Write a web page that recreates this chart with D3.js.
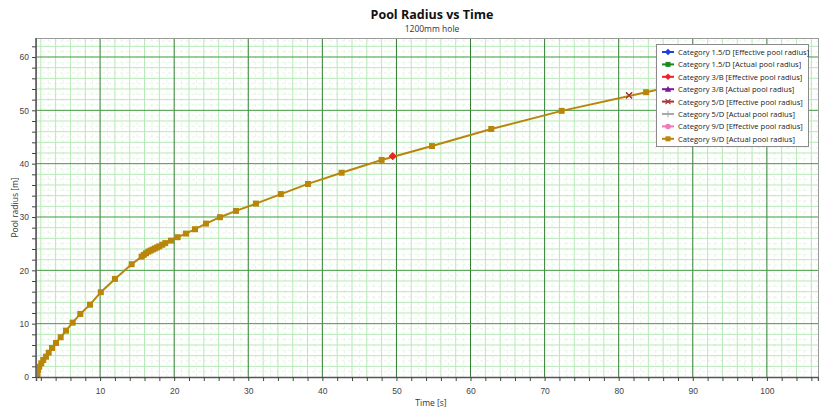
<!DOCTYPE html>
<html><head><meta charset="utf-8">
<script src="https://cdn.jsdelivr.net/npm/d3@7"></script>
<style>body{margin:0;background:#fff;} svg{display:block;font-family:"Open Sans",sans-serif;}</style>
</head><body>
<script>
// Data
const title = "Pool Radius vs Time";
const subtitle = "1200mm hole";
const xLabel = "Time [s]";
const yLabel = "Pool radius [m]";
const xTicks = [10,20,30,40,50,60,70,80,90,100];
const yTicks = [0,10,20,30,40,50,60];
const seriesNames = [
  "Category 1.5/D [Effective pool radius]",
  "Category 1.5/D [Actual pool radius]",
  "Category 3/B [Effective pool radius]",
  "Category 3/B [Actual pool radius]",
  "Category 5/D [Effective pool radius]",
  "Category 5/D [Actual pool radius]",
  "Category 9/D [Effective pool radius]",
  "Category 9/D [Actual pool radius]"
];
const seriesColors = ["#1f3fe0","#1a8a1a","#ee2222","#7a1a9a","#a83232","#a8a8a8","#f07ab8","#b8860b"];
const seriesMarkers = ["diamond","square","diamond","triangle","xcross","plus","circle","square"];
// shared curve (Category 9/D actual is on top)
const time9D = [1.52,1.52,1.62,1.79,2.06,2.33,2.70,3.06,3.51,4.05,4.68,5.40,6.30,7.33,8.64,10.1,12.0,14.26,15.61,
  15.9,16.2,16.5,16.8,17.1,17.4,17.7,18.0,18.4,18.8,19.57,20.47,21.59,22.81,24.29,26.18,28.34,31.04,34.4,38.06,42.6,48.0,54.8,62.8,72.3,83.7,92.0];
const radius9D = [0.06,0.69,1.31,1.93,2.57,3.19,3.81,4.56,5.44,6.38,7.45,8.69,10.19,11.82,13.56,15.9,18.39,21.14,22.57,
  22.9,23.2,23.5,23.7,23.9,24.1,24.3,24.5,24.8,25.1,25.57,26.21,26.89,27.71,28.76,29.96,31.14,32.51,34.3,36.2,38.3,40.7,43.3,46.5,49.9,53.4,56.0];
// other series: only their distinct visible points
const time3BEff = [49.5];
const radius3BEff = [41.4];
const time5DEff = [81.4];
const radius5DEff = [52.8];

const W = 819, H = 410;
const m = {left:36, top:38, right:818, bottom:377};
const svg = d3.select("body").append("svg").attr("width",W).attr("height",H);
const x = d3.scaleLinear().domain([1.35,106.9]).range([m.left,m.right]);
const y = d3.scaleLinear().domain([0,63.56]).range([m.bottom,m.top]);

svg.append("defs").append("clipPath").attr("id","clip").append("rect")
  .attr("x",m.left).attr("y",m.top).attr("width",m.right-m.left).attr("height",m.bottom-m.top);
const g = svg.append("g").attr("clip-path","url(#clip)");

// grid
const xs1 = d3.range(2,108,1), ys1 = d3.range(1,64,1);
g.selectAll(".gx1").data(xs1.filter(v=>v%2)).join("line").attr("x1",d=>x(d)).attr("x2",d=>x(d)).attr("y1",m.top).attr("y2",m.bottom)
  .attr("stroke","#e4f6e4").attr("stroke-width",1).attr("stroke-dasharray","3,3");
g.selectAll(".gy1").data(ys1.filter(v=>v%2)).join("line").attr("y1",d=>y(d)).attr("y2",d=>y(d)).attr("x1",m.left).attr("x2",m.right)
  .attr("stroke","#e4f6e4").attr("stroke-width",1).attr("stroke-dasharray","3,3");
g.selectAll(".gx2").data(xs1.filter(v=>v%2===0 && v%10)).join("line").attr("x1",d=>x(d)).attr("x2",d=>x(d)).attr("y1",m.top).attr("y2",m.bottom)
  .attr("stroke","#b6eab6").attr("stroke-width",1);
g.selectAll(".gy2").data(ys1.filter(v=>v%2===0 && v%10)).join("line").attr("y1",d=>y(d)).attr("y2",d=>y(d)).attr("x1",m.left).attr("x2",m.right)
  .attr("stroke","#b6eab6").attr("stroke-width",1);
g.selectAll(".gx3").data(xTicks).join("line").attr("x1",d=>x(d)).attr("x2",d=>x(d)).attr("y1",m.top).attr("y2",m.bottom)
  .attr("stroke","#2f7d2f").attr("stroke-width",1);
g.selectAll(".gy3").data(yTicks.filter(v=>v>0)).join("line").attr("y1",d=>y(d)).attr("y2",d=>y(d)).attr("x1",m.left).attr("x2",m.right)
  .attr("stroke","#3f9a3f").attr("stroke-width",1);

// plot border
svg.append("rect").attr("x",m.left+0.5).attr("y",m.top+0.5).attr("width",m.right-m.left).attr("height",m.bottom-m.top)
  .attr("fill","none").attr("stroke","#9a9a9a");

// axes
const xAxis = d3.axisBottom(x).tickValues(d3.range(2,108,2)).tickSize(4).tickFormat(d=>xTicks.includes(d)?d:"");
const gx = svg.append("g").attr("transform",`translate(0,${m.bottom})`).call(xAxis);
const yAxis = d3.axisLeft(y).tickValues(d3.range(0,64,2)).tickSize(4).tickFormat(d=>yTicks.includes(d)?d:"");
const gy = svg.append("g").attr("transform",`translate(${m.left},0)`).call(yAxis);
[gx,gy].forEach(a=>{
  a.selectAll("path").attr("stroke","#555").attr("stroke-width",1.5);
  a.selectAll("line").attr("stroke","#444");
  a.selectAll("text").attr("fill","#444").attr("font-size",8.5);
});
gx.selectAll("text").attr("dy","1.2em");
gy.select("path").attr("d",`M0,${m.bottom}V${m.top}`);

// titles
svg.append("text").attr("x",432).attr("y",19).attr("text-anchor","middle").attr("font-size",12.5).attr("font-weight","bold").attr("fill","#111").text(title);
svg.append("text").attr("x",432).attr("y",32).attr("text-anchor","middle").attr("font-size",8.5).attr("fill","#333").text(subtitle);
svg.append("text").attr("x",431).attr("y",406).attr("text-anchor","middle").attr("font-size",8.5).attr("fill","#333").text(xLabel);
svg.append("text").attr("transform",`translate(18,${(m.top+m.bottom)/2}) rotate(-90)`).attr("text-anchor","middle").attr("font-size",8.5).attr("fill","#333").text(yLabel);

// markers
function marker(sel, type, color, size){
  const s = size;
  if(type==="square") sel.append("rect").attr("x",-s).attr("y",-s).attr("width",2*s).attr("height",2*s).attr("fill",color);
  else if(type==="diamond") sel.append("path").attr("d",`M0,${-s*1.3}L${s*1.3},0L0,${s*1.3}L${-s*1.3},0Z`).attr("fill",color);
  else if(type==="triangle") sel.append("path").attr("d",`M0,${-s*1.3}L${s*1.3},${s}L${-s*1.3},${s}Z`).attr("fill",color);
  else if(type==="circle") sel.append("circle").attr("r",s*1.1).attr("fill",color);
  else if(type==="xcross") sel.append("path").attr("d",`M${-s},${-s}L${s},${s}M${-s},${s}L${s},${-s}`).attr("stroke",color).attr("stroke-width",1.2);
  else if(type==="plus") sel.append("path").attr("d",`M${-s*1.3},0H${s*1.3}M0,${-s*1.3}V${s*1.3}`).attr("stroke",color).attr("stroke-width",1);
}
const line = d3.line().x(d=>x(d[0])).y(d=>y(d[1]));
function drawSeries(ts, rs, idx){
  const pts = ts.map((t,i)=>[t,rs[i]]);
  if(pts.length>1) g.append("path").datum(pts).attr("d",line).attr("fill","none").attr("stroke",seriesColors[idx]).attr("stroke-width",2);
  pts.forEach(p=>{
    const mk = g.append("g").attr("transform",`translate(${x(p[0])},${y(p[1])})`);
    marker(mk, seriesMarkers[idx], seriesColors[idx], 3);
  });
}
drawSeries(time3BEff, radius3BEff, 2);
drawSeries(time5DEff, radius5DEff, 4);
drawSeries(time9D, radius9D, 7);
// redraw distinct markers on top
[[time3BEff,radius3BEff,2],[time5DEff,radius5DEff,4]].forEach(([ts,rs,idx])=>{
  ts.forEach((t,i)=>{ const mk=g.append("g").attr("transform",`translate(${x(t)},${y(rs[i])})`); marker(mk, seriesMarkers[idx], seriesColors[idx], 3); });
});

// legend
const lg = svg.append("g");
lg.append("rect").attr("x",656.5).attr("y",44.5).attr("width",152).attr("height",102).attr("fill","#fff").attr("stroke","#8a8a8a");
seriesNames.forEach((n,i)=>{
  const yy = 52 + i*12.4;
  lg.append("line").attr("x1",662).attr("x2",674).attr("y1",yy).attr("y2",yy).attr("stroke",seriesColors[i]).attr("stroke-width",2);
  const mk = lg.append("g").attr("transform",`translate(668,${yy})`);
  marker(mk, seriesMarkers[i], seriesColors[i], 2.5);
  lg.append("text").attr("x",678).attr("y",yy+3).attr("font-size",7.6).attr("fill","#222").text(n);
});
</script>
</body></html>
